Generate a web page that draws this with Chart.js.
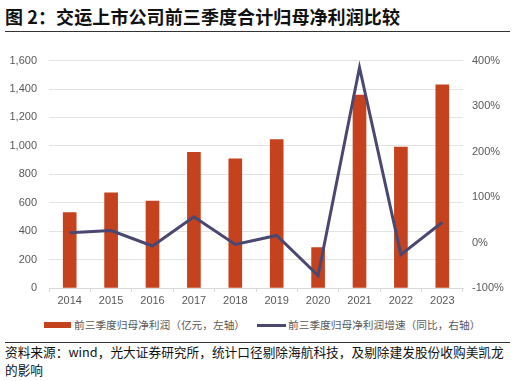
<!DOCTYPE html>
<html><head><meta charset="utf-8">
<script src="https://cdn.jsdelivr.net/npm/chart.js@4/dist/chart.umd.min.js"></script>
<style>
html,body{margin:0;padding:0;background:#fff;width:516px;height:381px;overflow:hidden;font-family:"Noto Sans CJK SC","Liberation Sans",sans-serif;}
#title{position:absolute;left:5px;top:3px;font-size:18px;font-weight:bold;color:#111;white-space:nowrap;letter-spacing:0.1px;}
#line1{position:absolute;left:5px;width:505px;top:31px;height:1px;background:#333;}
#line2{position:absolute;left:5px;width:505px;top:342px;height:1px;background:#333;}
#src{position:absolute;left:5px;top:343px;width:510px;font-size:12.7px;line-height:18px;color:#111;}
#wrap{position:absolute;left:0;top:42px;width:516px;height:271px;}
.leg{position:absolute;font-size:10.7px;color:#595959;white-space:nowrap;top:317px;line-height:16px;}
.sw{position:absolute;}
</style></head><body>
<div id="title">图 2：交运上市公司前三季度合计归母净利润比较</div>
<div id="line1"></div>
<div id="wrap"><canvas id="c"></canvas></div>
<div class="sw" id="sw1" style="left:44px;top:322px;width:27px;height:6px;background:#C5421F"></div>
<div class="leg" style="left:74px">前三季度归母净利润（亿元，左轴）</div>
<div class="sw" id="sw2" style="left:257px;top:324px;width:29px;height:3px;background:#4A4870"></div>
<div class="leg" style="left:288px">前三季度归母净利润增速（同比，右轴）</div>
<div id="line2"></div>
<div id="src">资料来源：wind，光大证券研究所，统计口径剔除海航科技，及剔除建发股份收购美凯龙的影响</div>
<script>
const categories = ["2014","2015","2016","2017","2018","2019","2020","2021","2022","2023"];
const profit = [530, 670, 611, 954, 908, 1045, 285, 1358, 992, 1430];
const growth = [21.6, 26.4, -7.6, 56.5, -4.2, 15.5, -72.5, 385, -26.5, 44.5];
const barLabel = "前三季度归母净利润（亿元，左轴）";
const lineLabel = "前三季度归母净利润增速（同比，右轴）";
const tickFont = {family:"'Liberation Sans', Arial, sans-serif", size:11};
const tickColor = "#595959";
new Chart(document.getElementById('c'), {
  data: {
    labels: categories,
    datasets: [
      {type:'line', label: lineLabel, data: growth, yAxisID:'y1', borderColor:'#4A4870', backgroundColor:'#4A4870', borderWidth:3, pointRadius:0, tension:0, order:0},
      {type:'bar', label: barLabel, data: profit, yAxisID:'y', backgroundColor:'#C5421F', barThickness:13, order:1}
    ]
  },
  options: {
    responsive:true, maintainAspectRatio:false, animation:false,
    layout:{padding:{top:7,left:0,right:0,bottom:0}},
    plugins:{legend:{display:false}, tooltip:{enabled:false}},
    scales:{
      x:{offset:true,
         grid:{display:true, drawOnChartArea:false, drawTicks:true, tickLength:4, color:'#d9d9d9', offset:true},
         border:{display:true,color:'#d9d9d9'},
         ticks:{font:tickFont,color:tickColor,padding:2,maxRotation:0},
         afterFit(s){s.height=25;}},
      y:{position:'left',min:0,max:1600,
         ticks:{stepSize:200,font:tickFont,color:tickColor,padding:12,callback:v=>v.toLocaleString('en-US')},
         grid:{color:'#e3e3e3',drawTicks:false},
         border:{display:false},
         afterFit(s){s.width=49;}},
      y1:{position:'right',min:-100,max:400,
         ticks:{stepSize:100,font:tickFont,color:tickColor,padding:9,callback:v=>v+'%'},
         grid:{display:false,drawTicks:false},
         border:{display:false},
         afterFit(s){s.width=53;}}
    }
  }
});
</script>
</body></html>
